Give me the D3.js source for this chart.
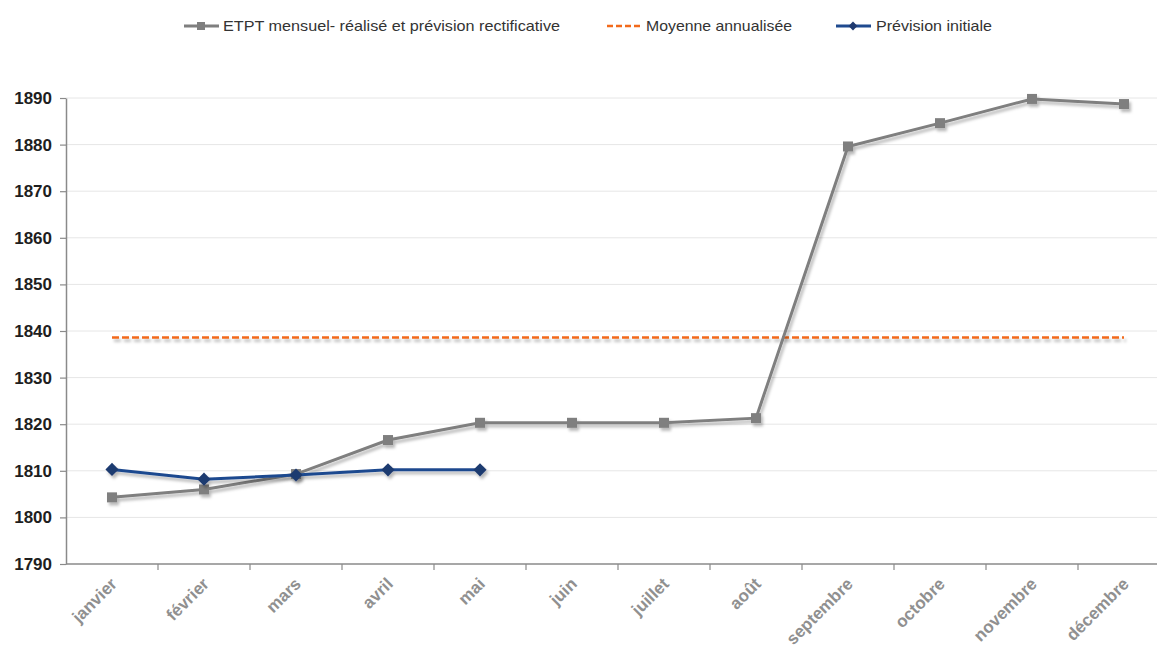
<!DOCTYPE html>
<html>
<head>
<meta charset="utf-8">
<script src="https://cdn.jsdelivr.net/npm/d3@7"></script>
<style>
  html, body { margin: 0; padding: 0; background: #ffffff; }
  svg { display: block; font-family: "Liberation Sans", Arial, sans-serif; }
</style>
</head>
<body>
<svg id="chart" width="1157" height="651"></svg>
<script>
// Months of the year (x categories)
const months = ["janvier", "février", "mars", "avril", "mai", "juin",
  "juillet", "août", "septembre", "octobre", "novembre", "décembre"];

// ETPT mensuel – réalisé et prévision rectificative
const etptRealise = [1804.3, 1806.0, 1809.3, 1816.6, 1820.3, 1820.3,
  1820.3, 1821.3, 1879.6, 1884.6, 1889.8, 1888.7];

// Prévision initiale (janvier à mai)
const previsionInitiale = [1810.3, 1808.2, 1809.1, 1810.2, 1810.2];

// Moyenne annualisée
const moyenneAnnualisee = 1838.6;

// Y axis ticks
const yTicks = [1790, 1800, 1810, 1820, 1830, 1840, 1850, 1860, 1870, 1880, 1890];

const legendLabels = ["ETPT mensuel- réalisé et prévision rectificative",
  "Moyenne annualisée", "Prévision initiale"];

const svg = d3.select("#chart");
const W = 1157;

const x = d3.scaleBand().domain(months).range([66, 1170]).padding(0);
const y = d3.scaleLinear().domain([1790, 1890]).range([564, 98]);
const cx = m => x(m) + x.bandwidth() / 2;

// soft drop shadow under the series lines (user-space region so flat lines still render)
const defs = svg.append("defs");
const f = defs.append("filter").attr("id", "shadow")
  .attr("filterUnits", "userSpaceOnUse")
  .attr("x", 0).attr("y", 0).attr("width", W).attr("height", 651);
f.append("feDropShadow").attr("dx", 2).attr("dy", 3).attr("stdDeviation", 1.6)
  .attr("flood-color", "#000").attr("flood-opacity", 0.28);

// horizontal gridlines
svg.append("g").selectAll("line")
  .data(yTicks.filter(t => t !== 1790))
  .join("line")
  .attr("x1", 66).attr("x2", W)
  .attr("y1", d => y(d)).attr("y2", d => y(d))
  .attr("stroke", "#e6e6e6").attr("stroke-width", 1);

// y axis
const yAxis = svg.append("g").attr("transform", "translate(66,0)")
  .call(d3.axisLeft(y).tickValues(yTicks).tickSize(6).tickSizeOuter(0).tickPadding(8)
    .tickFormat(d3.format("d")));
yAxis.select(".domain").attr("stroke", "#8a8a8a").attr("stroke-width", 1.5);
yAxis.selectAll(".tick line").attr("stroke", "#8a8a8a").attr("stroke-width", 1.2);
yAxis.selectAll(".tick text")
  .attr("font-size", 17).attr("font-weight", "bold").attr("fill", "#1e1e1e")
  .attr("font-family", "'Liberation Sans', Arial, sans-serif");

// x axis line and boundary ticks
const xAxisG = svg.append("g");
xAxisG.append("line")
  .attr("x1", 66).attr("x2", W).attr("y1", 564).attr("y2", 564)
  .attr("stroke", "#8a8a8a").attr("stroke-width", 1.5);
xAxisG.selectAll("line.tk")
  .data(months.slice(1))
  .join("line").attr("class", "tk")
  .attr("x1", d => x(d)).attr("x2", d => x(d))
  .attr("y1", 564).attr("y2", 570)
  .attr("stroke", "#8a8a8a").attr("stroke-width", 1.2);

// rotated month labels
xAxisG.selectAll("text")
  .data(months)
  .join("text")
  .attr("transform", d => `translate(${cx(d) + 6},${585}) rotate(-45)`)
  .attr("text-anchor", "end")
  .attr("font-size", 17).attr("font-weight", "bold").attr("fill", "#909090")
  .text(d => d);

const line = d3.line().x(d => cx(d.m)).y(d => y(d.v));

// average (dashed orange)
svg.append("line")
  .attr("x1", cx(months[0])).attr("x2", cx(months[11]))
  .attr("y1", y(moyenneAnnualisee)).attr("y2", y(moyenneAnnualisee))
  .attr("stroke", "#f26a1b").attr("stroke-width", 2.6)
  .attr("stroke-dasharray", "7,3")
  .attr("filter", "url(#shadow)");

// grey series
const grey = etptRealise.map((v, i) => ({ m: months[i], v }));
const gG = svg.append("g").attr("filter", "url(#shadow)");
gG.append("path").datum(grey).attr("d", line)
  .attr("fill", "none").attr("stroke", "#7f7f7f").attr("stroke-width", 3);
gG.selectAll("rect").data(grey).join("rect")
  .attr("x", d => cx(d.m) - 5).attr("y", d => y(d.v) - 5)
  .attr("width", 10).attr("height", 10).attr("fill", "#7f7f7f");

// blue series
const blue = previsionInitiale.map((v, i) => ({ m: months[i], v }));
const bG = svg.append("g").attr("filter", "url(#shadow)");
bG.append("path").datum(blue).attr("d", line)
  .attr("fill", "none").attr("stroke", "#1f4a8f").attr("stroke-width", 3);
bG.selectAll("path.dm").data(blue).join("path").attr("class", "dm")
  .attr("d", d3.symbol().type(d3.symbolDiamond2).size(110))
  .attr("transform", d => `translate(${cx(d.m)},${y(d.v)})`)
  .attr("fill", "#1f3a70");

// legend
const lg = svg.append("g").attr("font-size", 14.5).attr("fill", "#333");
const ly = 26;
// item 1
lg.append("line").attr("x1", 184).attr("x2", 219).attr("y1", ly).attr("y2", ly)
  .attr("stroke", "#7f7f7f").attr("stroke-width", 3);
lg.append("rect").attr("x", 197).attr("y", ly - 4).attr("width", 8).attr("height", 8)
  .attr("fill", "#7f7f7f");
lg.append("text").attr("x", 223).attr("y", ly + 5).text(legendLabels[0])
  .attr("textLength", 337).attr("lengthAdjust", "spacingAndGlyphs");
// item 2
lg.append("line").attr("x1", 607).attr("x2", 641).attr("y1", ly).attr("y2", ly)
  .attr("stroke", "#f26a1b").attr("stroke-width", 2.6).attr("stroke-dasharray", "6,3");
lg.append("text").attr("x", 646).attr("y", ly + 5).text(legendLabels[1])
  .attr("textLength", 146).attr("lengthAdjust", "spacingAndGlyphs");
// item 3
lg.append("line").attr("x1", 836).attr("x2", 871).attr("y1", ly).attr("y2", ly)
  .attr("stroke", "#1f4a8f").attr("stroke-width", 3);
lg.append("path").attr("d", d3.symbol().type(d3.symbolDiamond2).size(50))
  .attr("transform", `translate(853,${ly})`).attr("fill", "#1f3a70");
lg.append("text").attr("x", 876).attr("y", ly + 5).text(legendLabels[2])
  .attr("textLength", 116).attr("lengthAdjust", "spacingAndGlyphs");
</script>
</body>
</html>
